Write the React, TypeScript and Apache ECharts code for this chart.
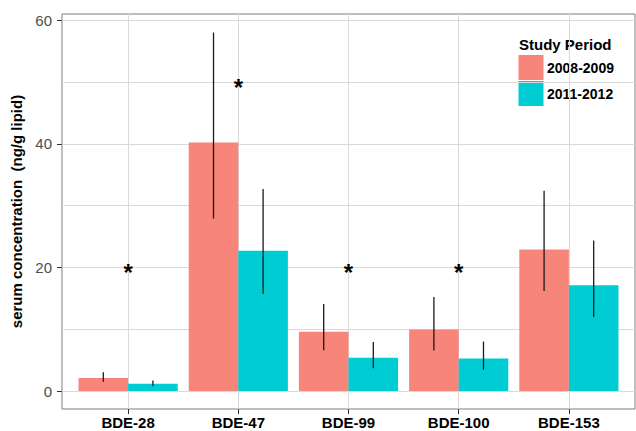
import React, { useEffect, useRef } from "react";
import * as echarts from "echarts";

const categories = ["BDE-28", "BDE-47", "BDE-99", "BDE-100", "BDE-153"];
const periods = ["2008-2009", "2011-2012"];
const mean0809 = [2.1, 40.2, 9.6, 9.95, 22.9];
const low0809 = [1.5, 27.9, 6.6, 6.55, 16.2];
const high0809 = [3.05, 58.0, 14.1, 15.2, 32.4];
const mean1112 = [1.2, 22.7, 5.4, 5.25, 17.1];
const low1112 = [0.8, 15.75, 3.7, 3.45, 12.0];
const high1112 = [1.7, 32.7, 7.95, 8.0, 24.35];
const starY: (number | null)[] = [20, 50, 20, 20, null];
const yLabelValues = [0, 20, 40, 60];
const yGridValues = [0, 10, 20, 30, 40, 50, 60];
const xValues = [0, 1, 2, 3, 4];

const COLORS = ["#F8857A", "#00CDD3"];
const FONT = "'Liberation Sans', Arial, Helvetica, sans-serif";
const GRID_COLOR = "#d9d9d9";
const HALF = 0.225;

function barSeries(name: string, means: number[], color: string, off: number) {
  return {
    type: "custom",
    name,
    silent: true,
    z: 3,
    xAxisIndex: 0,
    yAxisIndex: 0,
    data: means.map((v, i) => [i, v]),
    encode: { x: 0, y: 1 },
    renderItem: (_p: any, api: any) => {
      const i = api.value(0);
      const v = api.value(1);
      const a = api.coord([i + off - HALF, v]);
      const b = api.coord([i + off + HALF, 0]);
      return {
        type: "rect",
        shape: { x: a[0], y: a[1], width: b[0] - a[0], height: b[1] - a[1] },
        style: { fill: color },
      };
    },
  };
}

function errSeries(low: number[], high: number[], off: number) {
  return {
    type: "custom",
    silent: true,
    z: 4,
    xAxisIndex: 0,
    yAxisIndex: 0,
    data: low.map((l, i) => [i, l, high[i]]),
    encode: { x: 0, y: [1, 2] },
    renderItem: (_p: any, api: any) => {
      const i = api.value(0);
      const a = api.coord([i + off, api.value(1)]);
      const b = api.coord([i + off, api.value(2)]);
      return {
        type: "line",
        shape: { x1: a[0], y1: a[1], x2: b[0], y2: b[1] },
        style: { stroke: "#1a1a1a", lineWidth: 1.3 },
      };
    },
  };
}

export default function App() {
  const ref = useRef<HTMLDivElement>(null);
  useEffect(() => {
    if (!ref.current) return;
    const chart = echarts.init(ref.current, undefined, { renderer: "svg" });
    const starData = starY
      .map((y, i) => (y === null ? null : [i, y]))
      .filter((d) => d !== null);
    chart.setOption({
      animation: false,
      backgroundColor: "#ffffff",
      grid: {
        left: 62,
        top: 14,
        right: 1,
        bottom: 22,
        show: true,
        borderColor: "#7f7f7f",
        borderWidth: 1,
        backgroundColor: "#ffffff",
        containLabel: false,
        outerBoundsMode: "none",
      },
      xAxis: {
        type: "value",
        min: -0.6,
        max: 4.6,
        axisLine: { show: false, onZero: false },
        axisTick: {
          show: true,
          customValues: xValues,
          length: 5,
          lineStyle: { color: "#333333", width: 1 },
        },
        axisLabel: {
          customValues: xValues,
          formatter: (v: number) => categories[Math.round(v)] ?? "",
          margin: 6,
          fontFamily: FONT,
          fontSize: 15,
          fontWeight: "bold",
          color: "#000000",
        },
        splitLine: { show: true, lineStyle: { color: GRID_COLOR, width: 1 } },
      },
      yAxis: [
        {
          type: "value",
          position: "left",
          min: -2.9,
          max: 61,
          name: "serum concentration  (ng/g lipid)",
          nameLocation: "middle",
          nameRotate: 90,
          nameGap: 37,
          nameTextStyle: {
            fontFamily: FONT,
            fontSize: 15,
            fontWeight: "bold",
            color: "#000000",
          },
          axisLine: { show: false, onZero: false },
          axisTick: {
            show: true,
            customValues: yLabelValues,
            length: 5,
            lineStyle: { color: "#333333", width: 1 },
          },
          axisLabel: {
            customValues: yLabelValues,
            margin: 10,
            fontFamily: FONT,
            fontSize: 15,
            color: "#4d4d4d",
          },
          splitLine: { show: false },
        },
        {
          type: "value",
          position: "right",
          min: -2.9,
          max: 61,
          axisLine: { show: false, onZero: false },
          axisTick: { show: false, customValues: yGridValues },
          axisLabel: { show: false },
          splitLine: { show: true, lineStyle: { color: GRID_COLOR, width: 1 } },
        },
      ],
      series: [
        barSeries(periods[0], mean0809, COLORS[0], -HALF),
        barSeries(periods[1], mean1112, COLORS[1], HALF),
        errSeries(low0809, high0809, -HALF),
        errSeries(low1112, high1112, HALF),
        {
          type: "custom",
          silent: true,
          z: 5,
          xAxisIndex: 0,
          yAxisIndex: 0,
          data: starData,
          encode: { x: 0, y: 1 },
          renderItem: (_p: any, api: any) => {
            const p = api.coord([api.value(0), api.value(1)]);
            return {
              type: "text",
              x: p[0],
              y: p[1] + 5.5,
              style: {
                text: "*",
                fontFamily: FONT,
                fontSize: 24,
                fontWeight: "bold",
                fill: "#000000",
                align: "center",
                verticalAlign: "middle",
              },
            };
          },
        },
      ],
      graphic: [
        {
          type: "group",
          z: 100,
          children: [
            {
              type: "rect",
              shape: { x: 512, y: 23, width: 111, height: 89 },
              style: { fill: "#ffffff" },
            },
            {
              type: "text",
              x: 519,
              y: 44,
              style: {
                text: "Study Period",
                fontFamily: FONT,
                fontSize: 15,
                fontWeight: "bold",
                fill: "#000000",
                align: "left",
                verticalAlign: "middle",
              },
            },
            {
              type: "rect",
              shape: { x: 518, y: 54.5, width: 26, height: 26 },
              style: { fill: COLORS[0], stroke: "#ffffff", lineWidth: 1 },
            },
            {
              type: "rect",
              shape: { x: 518, y: 80.5, width: 26, height: 26 },
              style: { fill: COLORS[1], stroke: "#ffffff", lineWidth: 1 },
            },
            {
              type: "text",
              x: 547,
              y: 68,
              style: {
                text: periods[0],
                fontFamily: FONT,
                fontSize: 14,
                fontWeight: "bold",
                fill: "#000000",
                align: "left",
                verticalAlign: "middle",
              },
            },
            {
              type: "text",
              x: 547,
              y: 93.5,
              style: {
                text: periods[1],
                fontFamily: FONT,
                fontSize: 14,
                fontWeight: "bold",
                fill: "#000000",
                align: "left",
                verticalAlign: "middle",
              },
            },
          ],
        },
      ],
    });
    return () => chart.dispose();
  }, []);
  return (
    <div
      ref={ref}
      style={{ position: "fixed", left: 0, top: 0, width: 636, height: 431 }}
    />
  );
}
